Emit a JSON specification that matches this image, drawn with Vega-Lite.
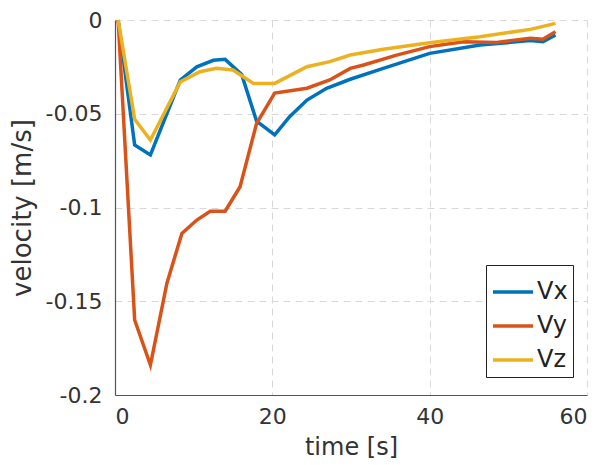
{
  "$schema": "https://vega.github.io/schema/vega-lite/v6.json",
  "width": 472,
  "height": 375,
  "autosize": {"type": "none"},
  "padding": {"left": 115, "top": 20, "right": 21, "bottom": 70},
  "background": "white",
  "config": {
    "font": "DejaVu Sans",
    "view": {"stroke": null},
    "axis": {
      "labelFont": "DejaVu Sans",
      "titleFont": "DejaVu Sans",
      "labelFontSize": 22,
      "titleFontSize": 24,
      "labelColor": "#333",
      "titleColor": "#333",
      "titleFontWeight": "normal",
      "domainColor": "#555",
      "domainWidth": 1.2,
      "ticks": false,
      "gridColor": "#d8d8d8",
      "gridDash": [7, 5],
      "gridWidth": 1
    }
  },
  "data": {
    "values": [
      {"t": 0.4, "v": 0, "c": "Vx"},
      {"t": 2.5, "v": -0.0667, "c": "Vx"},
      {"t": 4.5, "v": -0.072, "c": "Vx"},
      {"t": 8.3, "v": -0.032, "c": "Vx"},
      {"t": 10.4, "v": -0.025, "c": "Vx"},
      {"t": 12.5, "v": -0.0215, "c": "Vx"},
      {"t": 14, "v": -0.021, "c": "Vx"},
      {"t": 16.1, "v": -0.029, "c": "Vx"},
      {"t": 18, "v": -0.054, "c": "Vx"},
      {"t": 20.3, "v": -0.0613, "c": "Vx"},
      {"t": 22.2, "v": -0.0516, "c": "Vx"},
      {"t": 24.4, "v": -0.0427, "c": "Vx"},
      {"t": 26.9, "v": -0.0364, "c": "Vx"},
      {"t": 29.9, "v": -0.0316, "c": "Vx"},
      {"t": 34.1, "v": -0.0258, "c": "Vx"},
      {"t": 40, "v": -0.0178, "c": "Vx"},
      {"t": 46.4, "v": -0.0133, "c": "Vx"},
      {"t": 52.8, "v": -0.011, "c": "Vx"},
      {"t": 54.4, "v": -0.0116, "c": "Vx"},
      {"t": 56, "v": -0.008, "c": "Vx"},
      {"t": 0.4, "v": 0, "c": "Vy"},
      {"t": 2.5, "v": -0.16, "c": "Vy"},
      {"t": 4.5, "v": -0.184, "c": "Vy"},
      {"t": 6.6, "v": -0.1404, "c": "Vy"},
      {"t": 8.5, "v": -0.1138, "c": "Vy"},
      {"t": 10.4, "v": -0.1067, "c": "Vy"},
      {"t": 12.1, "v": -0.102, "c": "Vy"},
      {"t": 14, "v": -0.102, "c": "Vy"},
      {"t": 15.9, "v": -0.0889, "c": "Vy"},
      {"t": 18, "v": -0.0551, "c": "Vy"},
      {"t": 20.3, "v": -0.039, "c": "Vy"},
      {"t": 24.4, "v": -0.0364, "c": "Vy"},
      {"t": 27.3, "v": -0.032, "c": "Vy"},
      {"t": 29.9, "v": -0.0258, "c": "Vy"},
      {"t": 31.6, "v": -0.024, "c": "Vy"},
      {"t": 35.8, "v": -0.0187, "c": "Vy"},
      {"t": 40, "v": -0.0142, "c": "Vy"},
      {"t": 44.3, "v": -0.0116, "c": "Vy"},
      {"t": 48.5, "v": -0.012, "c": "Vy"},
      {"t": 52.8, "v": -0.0098, "c": "Vy"},
      {"t": 54.4, "v": -0.0103, "c": "Vy"},
      {"t": 56, "v": -0.0062, "c": "Vy"},
      {"t": 0.4, "v": 0, "c": "Vz"},
      {"t": 2.5, "v": -0.053, "c": "Vz"},
      {"t": 4.5, "v": -0.064, "c": "Vz"},
      {"t": 8.3, "v": -0.033, "c": "Vz"},
      {"t": 10.8, "v": -0.0276, "c": "Vz"},
      {"t": 12.9, "v": -0.0258, "c": "Vz"},
      {"t": 15, "v": -0.0267, "c": "Vz"},
      {"t": 17.6, "v": -0.0338, "c": "Vz"},
      {"t": 20.3, "v": -0.0338, "c": "Vz"},
      {"t": 24.4, "v": -0.0249, "c": "Vz"},
      {"t": 27.3, "v": -0.0222, "c": "Vz"},
      {"t": 29.9, "v": -0.0187, "c": "Vz"},
      {"t": 34.1, "v": -0.0156, "c": "Vz"},
      {"t": 40, "v": -0.0121, "c": "Vz"},
      {"t": 46.4, "v": -0.0089, "c": "Vz"},
      {"t": 52.8, "v": -0.005, "c": "Vz"},
      {"t": 56, "v": -0.0018, "c": "Vz"}
    ]
  },
  "mark": {"type": "line", "strokeWidth": 3.5, "clip": false},
  "encoding": {
    "x": {
      "field": "t",
      "type": "quantitative",
      "scale": {"domain": [0, 60], "nice": false, "zero": false},
      "axis": {"values": [0, 20, 40, 60], "title": "time [s]", "labelPadding": 11, "titlePadding": 8, "grid": true}
    },
    "y": {
      "field": "v",
      "type": "quantitative",
      "scale": {"domain": [-0.2, 0], "nice": false},
      "axis": {"values": [-0.2, -0.15, -0.1, -0.05, 0], "labelExpr": "datum.value == 0 ? '0' : '-' + format(abs(datum.value), '')", "title": "velocity [m/s]", "titleFontSize": 26, "labelPadding": 13, "titlePadding": 10, "grid": true}
    },
    "color": {
      "field": "c",
      "type": "nominal",
      "scale": {"domain": ["Vx", "Vy", "Vz"], "range": ["#0072BD", "#D95319", "#EDB120"]},
      "legend": {
        "title": null,
        "orient": "none",
        "legendX": 371,
        "legendY": 245,
        "symbolType": "stroke",
        "symbolSize": 1600,
        "symbolStrokeWidth": 3.5,
        "labelFontSize": 24,
        "labelFont": "DejaVu Sans",
        "labelColor": "#222",
        "labelOffset": 2,
        "rowPadding": 0,
        "padding": 5,
        "strokeColor": "#222",
        "fillColor": "white",
        "cornerRadius": 0
      }
    }
  }
}
